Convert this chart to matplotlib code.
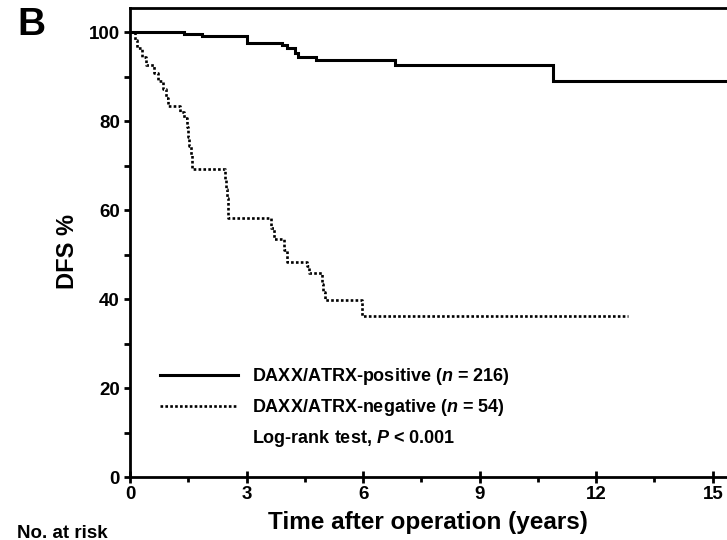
import matplotlib
matplotlib.use("Agg")
import matplotlib.pyplot as plt
from matplotlib.lines import Line2D

# Kaplan-Meier disease-free survival estimates (years, %)
pos_time = [0, 1.40, 1.85, 3.02, 3.90, 4.05, 4.25, 4.33, 4.80, 6.82, 10.90, 16.0]
pos_surv = [100, 99.5, 99.0, 97.6, 97.1, 96.3, 95.3, 94.5, 93.8, 92.5, 88.9, 88.9]

neg_time = [0, 0.12, 0.17, 0.30, 0.42, 0.62, 0.72, 0.85, 0.92, 0.97, 1.29, 1.38,
            1.47, 1.50, 1.53, 1.56, 1.59, 2.45, 2.47, 2.49, 2.51, 2.53, 3.62,
            3.70, 3.97, 4.03, 4.55, 4.60, 4.93, 4.97, 5.02, 5.97, 12.83]
neg_surv = [100, 98.1, 96.3, 94.4, 92.6, 90.7, 89.0, 87.2, 85.2, 83.3, 82.0, 80.6,
            78.6, 76.5, 74.4, 72.4, 69.2, 67.0, 64.8, 62.6, 60.5, 58.3, 56.0,
            53.4, 51.0, 48.4, 47.5, 45.9, 43.3, 41.5, 39.8, 36.1, 36.1]

labels = ["DAXX/ATRX-positive ($\\mathit{n}$ = 216)",
          "DAXX/ATRX-negative ($\\mathit{n}$ = 54)",
          "Log-rank test, $\\mathit{P}$ < 0.001"]

x_ticks = [0, 3, 6, 9, 12, 15]
y_ticks = [0, 20, 40, 60, 80, 100]

plt.rcParams["font.family"] = ["Liberation Sans", "DejaVu Sans"]
plt.rcParams["font.weight"] = "bold"
plt.rcParams["mathtext.fontset"] = "custom"
plt.rcParams["mathtext.rm"] = "Liberation Sans:bold"
plt.rcParams["mathtext.it"] = "Liberation Sans:italic:bold"

fig = plt.figure(figsize=(7.27, 5.40), dpi=100)
W, H = 727, 540
ax = fig.add_axes([130 / W, 63 / H, 621.6 / W, 469 / H])

ax.step(pos_time, pos_surv, where="post", color="black", lw=2.2,
        solid_joinstyle="miter", clip_on=False, zorder=3)
ax.step(neg_time, neg_surv, where="post", color="black", lw=1.9,
        linestyle=(0, (1, 0.85)), zorder=3)

ax.set_xlim(0, 16)
ax.set_ylim(0, 105.4)

ax.set_xticks(x_ticks)
ax.set_xticks([1.5, 4.5, 7.5, 10.5, 13.5], minor=True)
ax.set_yticks(y_ticks)
ax.set_yticks([10, 30, 50, 70, 90], minor=True)

for s in ["left", "bottom", "top", "right"]:
    ax.spines[s].set_linewidth(2.0)

ax.tick_params(axis="x", which="major", direction="inout", length=8.5, width=2.0,
               labelsize=13.5, pad=2)
ax.tick_params(axis="x", which="minor", direction="out", length=3.6, width=2.0)
ax.tick_params(axis="y", which="major", direction="out", length=4.3, width=2.0,
               labelsize=13.5, pad=3)
ax.tick_params(axis="y", which="minor", direction="out", length=4.3, width=2.0)
for lab in ax.get_xticklabels() + ax.get_yticklabels():
    lab.set_fontweight("bold")

ax.set_xlabel("Time after operation (years)", fontsize=17.5, fontweight="bold",
              va="center", ha="center")
ax.xaxis.set_label_coords(0.479, -0.098)
ax.set_ylabel("DFS %", fontsize=17, fontweight="bold", va="center", ha="center")
ax.yaxis.set_label_coords(-0.101, 0.48)

handles = [Line2D([], [], color="black", lw=2.2),
           Line2D([], [], color="black", lw=1.9, linestyle=(0, (1, 0.85))),
           Line2D([], [], linestyle="none")]
leg = ax.legend(handles, labels, loc="upper left", bbox_to_anchor=(0.0483, 0.2365),
                frameon=False, fontsize=13, handlelength=4.3, handletextpad=0.8,
                labelspacing=0.55, borderpad=0, borderaxespad=0)
for t in leg.get_texts():
    t.set_fontweight("bold")

fig.text(17 / W, (H - 35) / H, "B", fontsize=28, fontweight="bold", va="baseline")
fig.text(17 / W, 2.5 / H, "No. at risk", fontsize=13.5, fontweight="bold", va="baseline")

fig.savefig("out.png", dpi=100)
